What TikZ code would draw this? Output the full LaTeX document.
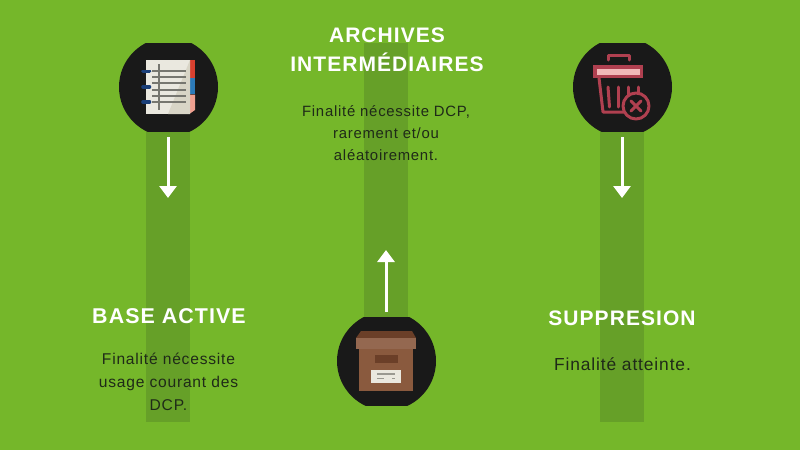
\documentclass[tikz,border=0pt]{standalone}
\usepackage{fontspec}
\setmainfont{Liberation Sans}
\newfontfamily\titlefont[LetterSpace=5]{Liberation Sans}
\newfontfamily\bodyfont[LetterSpace=5]{Liberation Sans}
\usetikzlibrary{arrows.meta}
\definecolor{bg}{HTML}{75B72A}
\definecolor{bandc}{HTML}{66A028}
\definecolor{disc}{HTML}{191919}
\definecolor{ink}{HTML}{1F2A18}
\definecolor{paper}{HTML}{EAE8DF}
\definecolor{papers}{HTML}{D8D5C6}
\definecolor{linec}{HTML}{777770}
\definecolor{navy}{HTML}{1B3F78}
\definecolor{tabr}{HTML}{D8402F}
\definecolor{tabb}{HTML}{2C7AB8}
\definecolor{tabp}{HTML}{F0A090}
\definecolor{rosec}{HTML}{B04050}
\definecolor{rosel}{HTML}{F2B8B8}
\definecolor{boxc}{HTML}{8A5A3E}
\definecolor{lidc}{HTML}{946850}
\definecolor{lidd}{HTML}{6B3F28}
\tikzset{
  band/.style={fill=bandc,draw=none,inner sep=0pt,minimum width=44pt},
  flow/.style={draw=white,line width=3pt,-{Triangle[length=12pt,width=17pt]}},
  heading/.style={text=white,font=\titlefont\bfseries\fontsize{21}{29.5}\selectfont,align=center,inner sep=0pt},
  body/.style={text=ink,font=\bodyfont\fontsize{14.9}{22}\selectfont,align=center,inner sep=0pt},
  rose/.style={draw=rosec,line width=3pt,line cap=round,line join=round}
}
\begin{document}
\begin{tikzpicture}[x=1pt,y=-1pt]
\useasboundingbox (0,0) rectangle (800,450);
\fill[bg] (0,0) rectangle (800,450);
% bands
\node[band,minimum height=291pt] (b1) at (168,276.5) {};
\node[band,minimum height=291pt] (b3) at (622,276.5) {};
\node[band,minimum height=274pt] (b2) at (386,180) {};
% discs
\begin{scope}
\clip (100,43) rectangle (240,131);
\fill[disc] (168.5,87) circle (49.5);
\end{scope}
\begin{scope}
\clip (550,43) rectangle (690,131);
\fill[disc] (622.5,87) circle (49.5);
\end{scope}
\begin{scope}
\clip (320,317) rectangle (450,405);
\fill[disc] (386.5,361) circle (49.5);
\end{scope}
% notebook
\fill[tabr] (190,60) rectangle (195,77.5);
\fill[tabb] (190,77.5) rectangle (195,94);
\fill[tabp] (190,94.5) -- (195,94.5) -- (195,110) -- (190,113.5) -- cycle;
\fill[paper] (145.5,60) rectangle (190,114);
\fill[papers] (190,60) -- (190,114) -- (168,114) -- cycle;
\foreach \yy in {71,77,83,90,96,102} \fill[linec] (152,\yy-0.8) rectangle (186,\yy+0.8);
\fill[linec] (157.5,64) rectangle (160,110);
\foreach \yy in {71.3,86.7,102} \draw[navy,line width=3.6pt,line cap=round] (143,\yy) -- (149.5,\yy);
% trash
\draw[rose] (608,60) -- (608,55) -- (629,55) -- (629,60);
\fill[rosec] (593,65) rectangle (643,78);
\fill[rosel] (597,68.5) rectangle (640,75);
\draw[rose] (599,78) -- (603,112) -- (624,112);
\draw[rose] (608,87) -- (609.5,107);
\draw[rose] (618,87) -- (618,107);
\draw[rose] (628,87) -- (628,98);
\draw[rose] (638,87) -- (638,97);
\draw[rose,fill=disc] (636,106) circle (13);
\draw[rose] (631,101) -- (641,111);
\draw[rose] (641,101) -- (631,111);
% box
\fill[boxc] (359,345) rectangle (413,391);
\fill[lidd] (361,331) -- (412,331) -- (416,338) -- (356,338) -- cycle;
\fill[lidc] (356,338) rectangle (416,349);
\fill[lidd] (375,355) rectangle (398,363);
\fill[paper] (371,370) rectangle (401,383);
\fill[linec!70!paper] (377,373) rectangle (395,374.5);
\fill[linec!70!paper] (377,377.5) rectangle (384,379);
\fill[linec!70!paper] (392,377.5) rectangle (395,379);
% arrows
\coordinate (a1s) at (168,137); \coordinate (a1e) at (168,198);
\coordinate (a2s) at (386,312); \coordinate (a2e) at (386,250);
\coordinate (a3s) at (622,137); \coordinate (a3e) at (622,198);
\draw[flow] (a1s) -- (a1e);
\draw[flow] (a2s) -- (a2e);
\draw[flow] (a3s) -- (a3e);
% text
\node[heading,font=\titlefont\bfseries\fontsize{21.4}{29.5}\selectfont] (t1) at (169,316) {BASE ACTIVE};
\node[heading] (t2) at (387,50) {ARCHIVES\\INTERMÉDIAIRES};
\node[heading] (t3) at (622,318) {SUPPRESION};
\node[body,font=\bodyfont\fontsize{15.6}{23}\selectfont] (d1) at (168.5,382) {Finalité nécessite\\usage courant des\\DCP.};
\node[body] (d2) at (386,133.5) {Finalité nécessite DCP,\\rarement et/ou\\aléatoirement.};
\node[body,font=\bodyfont\fontsize{17.4}{22}\selectfont] (d3) at (622.5,364) {Finalité atteinte.};
\end{tikzpicture}
\end{document}
